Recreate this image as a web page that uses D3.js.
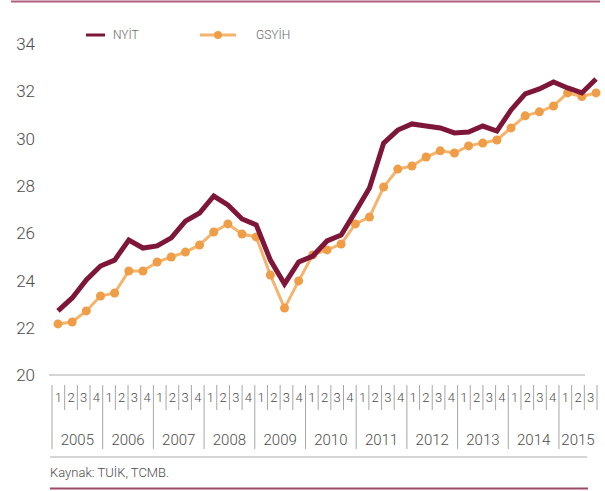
<!DOCTYPE html>
<html>
<head>
<meta charset="utf-8">
<script src="https://cdn.jsdelivr.net/npm/d3@7"></script>
<style>
  html, body { margin: 0; padding: 0; background: #fff; }
  svg { display: block; }
</style>
</head>
<body>
<div id="chart"></div>
<script>
// ── Data ────────────────────────────────────────────────────
const years = ['2005', '2006', '2007', '2008', '2009', '2010',
               '2011', '2012', '2013', '2014', '2015'];
const quartersPerYear = [4, 4, 4, 4, 4, 4, 4, 4, 4, 4, 3];
const yTicks = [20, 22, 24, 26, 28, 30, 32, 34];

const nyit = [22.71, 23.26, 24.02, 24.61, 24.86, 25.71, 25.37, 25.46, 25.80, 26.51,
              26.85, 27.57, 27.19, 26.60, 26.35, 24.86, 23.85, 24.78, 25.03, 25.67,
              25.92, 26.90, 27.91, 29.81, 30.36, 30.62, 30.53, 30.45, 30.24, 30.28,
              30.53, 30.32, 31.21, 31.89, 32.10, 32.39, 32.14, 31.93, 32.52];
const gsyih = [22.16, 22.24, 22.71, 23.34, 23.47, 24.40, 24.40, 24.78, 24.99, 25.20,
               25.50, 26.05, 26.39, 25.96, 25.84, 24.23, 22.83, 23.98, 25.08, 25.29,
               25.54, 26.39, 26.68, 27.95, 28.71, 28.84, 29.22, 29.48, 29.39, 29.69,
               29.81, 29.94, 30.45, 30.96, 31.13, 31.38, 31.93, 31.78, 31.93];

// quarter labels built from the year list
const quarters = [];
years.forEach((yr, i) => {
  for (let q = 1; q <= quartersPerYear[i]; q++) quarters.push({ year: yr, q });
});

const width = 605, height = 491;
const font = 'Roboto, "DejaVu Sans", sans-serif';
const textCol = '#4d4d4d';

const svg = d3.select('#chart')
  .append('svg')
  .attr('width', width)
  .attr('height', height);

// ── Frame lines ─────────────────────────────────────────────
svg.append('line')
  .attr('x1', 11).attr('x2', 600)
  .attr('y1', 1.5).attr('y2', 1.5)
  .attr('stroke', '#b0607c').attr('stroke-width', 2);

svg.append('line')
  .attr('x1', 50).attr('x2', 588)
  .attr('y1', 488.5).attr('y2', 488.5)
  .attr('stroke', '#9a4a68').attr('stroke-width', 2);

// ── Scales ──────────────────────────────────────────────────
const y = d3.scaleLinear().domain([20, 34]).range([375, 44]);
const x = d3.scaleLinear().domain([0, nyit.length - 1]).range([58, 596]);
const xq = d3.scaleBand()
  .domain(d3.range(quarters.length))
  .range([52, 597]);

// ── Y labels ────────────────────────────────────────────────
svg.append('g')
  .selectAll('text')
  .data(yTicks)
  .join('text')
  .attr('x', 35)
  .attr('y', d => y(d))
  .attr('dy', '0.36em')
  .attr('text-anchor', 'end')
  .attr('fill', textCol)
  .attr('font-size', '17px')
  .attr('font-weight', 300)
  .attr('font-family', font)
  .text(d => d);

// baseline at 20
svg.append('line')
  .attr('x1', 49).attr('x2', 585)
  .attr('y1', y(20)).attr('y2', y(20))
  .attr('stroke', '#aaa').attr('stroke-width', 1.2);

// ── X axis: quarters and years ──────────────────────────────
const axis = svg.append('g');

axis.selectAll('line.sep')
  .data(quarters)
  .join('line')
  .attr('class', 'sep')
  .attr('x1', (d, i) => xq(i)).attr('x2', (d, i) => xq(i))
  .attr('y1', 385)
  .attr('y2', d => d.q === 1 ? 449 : 410)
  .attr('stroke', '#a6a6a6').attr('stroke-width', 1);

axis.append('line')
  .attr('x1', xq.range()[1]).attr('x2', xq.range()[1])
  .attr('y1', 385).attr('y2', 410)
  .attr('stroke', '#a6a6a6').attr('stroke-width', 1);

axis.selectAll('text.q')
  .data(quarters)
  .join('text')
  .attr('class', 'q')
  .attr('x', (d, i) => xq(i) + xq.bandwidth() / 2)
  .attr('y', 402)
  .attr('text-anchor', 'middle')
  .attr('fill', textCol)
  .attr('font-size', '13px')
  .attr('font-weight', 300)
  .attr('font-family', font)
  .text(d => d.q);

let start = 0;
const yearPos = years.map((yr, i) => {
  const s = start;
  start += quartersPerYear[i];
  return { yr, mid: (xq(s) + xq(start - 1) + xq.bandwidth()) / 2 };
});

axis.selectAll('text.yr')
  .data(yearPos)
  .join('text')
  .attr('class', 'yr')
  .attr('x', d => d.mid)
  .attr('y', 445)
  .attr('text-anchor', 'middle')
  .attr('fill', textCol)
  .attr('font-size', '15px')
  .attr('font-weight', 300)
  .attr('font-family', font)
  .text(d => d.yr);

svg.append('line')
  .attr('x1', 50).attr('x2', 587)
  .attr('y1', 457).attr('y2', 457)
  .attr('stroke', '#aaa').attr('stroke-width', 1);

svg.append('text')
  .attr('x', 50).attr('y', 477)
  .attr('fill', textCol)
  .attr('font-size', '13px')
  .attr('font-weight', 300)
  .attr('font-family', font)
  .text('Kaynak: TUİK, TCMB.');

// ── Lines ───────────────────────────────────────────────────
const line = d3.line()
  .x((d, i) => x(i))
  .y(d => y(d));

svg.append('path')
  .datum(gsyih)
  .attr('fill', 'none')
  .attr('stroke', '#f5b36c')
  .attr('stroke-width', 3)
  .attr('d', line);

svg.append('g')
  .selectAll('circle')
  .data(gsyih)
  .join('circle')
  .attr('cx', (d, i) => x(i))
  .attr('cy', d => y(d))
  .attr('r', 4.5)
  .attr('fill', '#f09d47');

svg.append('path')
  .datum(nyit)
  .attr('fill', 'none')
  .attr('stroke', '#7d1639')
  .attr('stroke-width', 5)
  .attr('d', line);

// ── Legend ──────────────────────────────────────────────────
const legend = svg.append('g');

legend.append('line')
  .attr('x1', 86).attr('x2', 105)
  .attr('y1', 35).attr('y2', 35)
  .attr('stroke', '#7d1639').attr('stroke-width', 3);

legend.append('text')
  .attr('x', 113).attr('y', 35).attr('dy', '0.36em')
  .attr('fill', '#666')
  .attr('font-size', '12px')
  .attr('font-weight', 300)
  .attr('font-family', font)
  .text('NYİT');

legend.append('line')
  .attr('x1', 200).attr('x2', 236)
  .attr('y1', 35).attr('y2', 35)
  .attr('stroke', '#f5b36c').attr('stroke-width', 3);

legend.append('circle')
  .attr('cx', 218).attr('cy', 35).attr('r', 4)
  .attr('fill', '#f09d47');

legend.append('text')
  .attr('x', 256).attr('y', 35).attr('dy', '0.36em')
  .attr('fill', '#666')
  .attr('font-size', '12px')
  .attr('font-weight', 300)
  .attr('font-family', font)
  .text('GSYİH');
</script>
</body>
</html>
